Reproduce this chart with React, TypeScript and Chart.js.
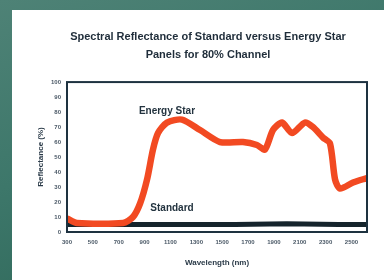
import React, { useEffect, useRef } from "react";
import { Chart, registerables } from "chart.js";

Chart.register(...registerables);

const titleLines = ["Spectral Reflectance of Standard versus Energy Star", "Panels for 80% Channel"];
const xAxisTitle = "Wavelength (nm)";
const yAxisTitle = "Reflectance (%)";

const xTickValues = [300, 500, 700, 900, 1100, 1300, 1500, 1700, 1900, 2100, 2300, 2500];
const yTickValues = [0, 10, 20, 30, 40, 50, 60, 70, 80, 90, 100];

const energyStarWavelengths = [300, 377, 733, 810, 865, 919, 965, 1004, 1073, 1189, 1329, 1483, 1661, 1769, 1831, 1893, 1963, 2040, 2140, 2202, 2280, 2334, 2373, 2411, 2512, 2620];
const energyStarValues = [9, 6, 6, 10, 19, 35, 55, 66, 73, 75, 68, 60, 60, 58, 55, 68, 73, 66, 73, 70, 63, 59, 35, 29, 33, 36];

const standardWavelengths = [300, 800, 1200, 1600, 2000, 2400, 2620];
const standardValues = [5, 5, 5, 5, 5.5, 5, 5];

const seriesLabels = ["Energy Star", "Standard"];
const labelAnchors = [
  { x: 1073, y: 80.5 },
  { x: 1112, y: 16 },
];

export default function App() {
  const ref = useRef<HTMLCanvasElement>(null);
  useEffect(() => {
    document.body.style.margin = "0";
    const canvas = ref.current!;
    const borderPlugin = {
      id: "frame",
      afterDatasetsDraw(chart: any) {
        const { ctx, chartArea: a } = chart;
        ctx.save();
        ctx.strokeStyle = "#1e3240";
        ctx.lineWidth = 2;
        ctx.strokeRect(a.left, a.top, a.right - a.left, a.bottom - a.top);
        ctx.fillStyle = "#23333f";
        ctx.font = "bold 10px 'Liberation Sans', Arial, sans-serif";
        ctx.textAlign = "center";
        ctx.textBaseline = "middle";
        seriesLabels.forEach((t, i) => {
          const px = chart.scales.x.getPixelForValue(labelAnchors[i].x);
          const py = chart.scales.y.getPixelForValue(labelAnchors[i].y);
          ctx.fillText(t, px, py);
        });
        ctx.restore();
      },
    };
    const chart = new Chart(canvas, {
      type: "line",
      data: {
        datasets: [
          {
            label: seriesLabels[0],
            data: energyStarWavelengths.map((x, i) => ({ x, y: energyStarValues[i] })),
            borderColor: "#f24a22",
            borderWidth: 6.5,
            pointRadius: 0,
            tension: 0.25,
            order: 0,
          },
          {
            label: seriesLabels[1],
            data: standardWavelengths.map((x, i) => ({ x, y: standardValues[i] })),
            borderColor: "#15242c",
            borderWidth: 5,
            pointRadius: 0,
            tension: 0,
            order: 1,
          },
        ],
      },
      options: {
        animation: false,
        responsive: false,
        maintainAspectRatio: false,
        layout: { padding: { left: 20, right: 0, top: 0, bottom: 0 } },
        plugins: {
          legend: { display: false },
          tooltip: { enabled: false },
          title: {
            display: true,
            text: titleLines,
            color: "#1f2d3a",
            font: { family: "'Liberation Sans', Arial, sans-serif", size: 11, weight: "bold", lineHeight: 1.64 },
            padding: { top: 18, bottom: 18 },
            fullSize: true,
          },
        },
        scales: {
          x: {
            type: "linear",
            min: 300,
            max: 2620,
            afterBuildTicks: (s: any) => {
              s.ticks = xTickValues.map((v) => ({ value: v }));
            },
            afterFit: (s: any) => {
              s.height = 48;
            },
            grid: { display: false, drawTicks: false },
            border: { display: false },
            ticks: {
              autoSkip: false,
              maxRotation: 0,
              padding: 7,
              color: "#4a5866",
              callback: (v: any) => String(v),
              font: { family: "'Liberation Sans', Arial, sans-serif", size: 6, weight: "bold" },
            },
            title: {
              display: true,
              text: xAxisTitle,
              color: "#2a3a48",
              font: { family: "'Liberation Sans', Arial, sans-serif", size: 8, weight: "bold" },
              padding: { top: 0, bottom: 12 },
            },
          },
          y: {
            type: "linear",
            min: 0,
            max: 100,
            afterBuildTicks: (s: any) => {
              s.ticks = yTickValues.map((v) => ({ value: v }));
            },
            afterFit: (s: any) => {
              s.width = 35;
            },
            grid: { display: false, drawTicks: false },
            border: { display: false },
            ticks: {
              padding: 6,
              color: "#4a5866",
              callback: (v: any) => String(v),
              font: { family: "'Liberation Sans', Arial, sans-serif", size: 6, weight: "bold" },
            },
            title: {
              display: true,
              text: yAxisTitle,
              color: "#2a3a48",
              font: { family: "'Liberation Sans', Arial, sans-serif", size: 8, weight: "bold" },
              padding: { top: 4, bottom: 0 },
            },
          },
          yRight: {
            type: "linear",
            position: "right",
            min: 0,
            max: 100,
            afterFit: (s: any) => {
              s.width = 17;
            },
            grid: { display: false, drawTicks: false },
            border: { display: false },
            ticks: { display: false },
          },
        },
      },
      plugins: [borderPlugin],
    });
    return () => chart.destroy();
  }, []);

  return (
    <div
      style={{
        position: "relative",
        width: 384,
        height: 280,
        overflow: "hidden",
        background: "linear-gradient(160deg, #4e8276 0%, #3d776a 45%, #2b6455 100%)",
      }}
    >
      <div style={{ position: "absolute", left: 12, top: 10, width: 372, height: 270, background: "#ffffff" }}>
        <canvas ref={ref} width={372} height={270} style={{ display: "block", width: 372, height: 270 }} />
      </div>
    </div>
  );
}
